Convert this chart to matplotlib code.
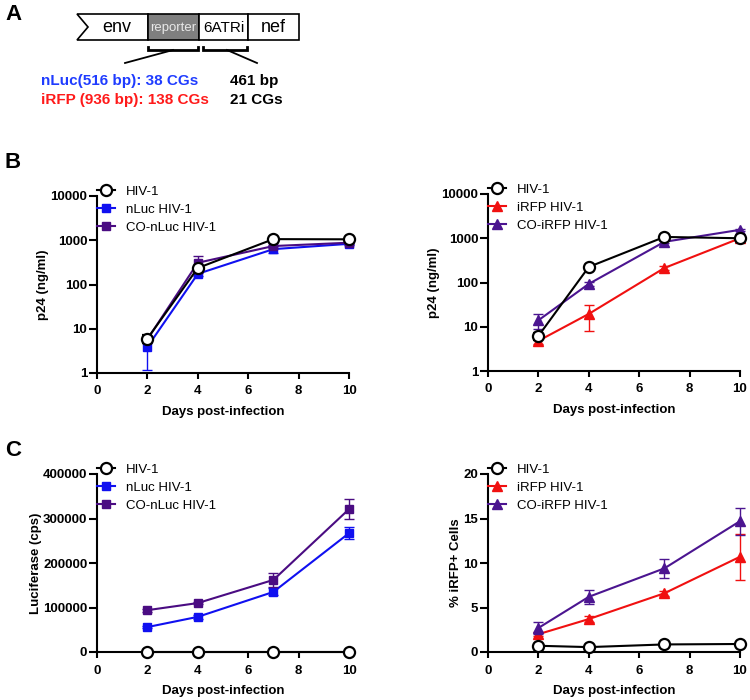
import matplotlib.pyplot as plt
from matplotlib.lines import Line2D
from matplotlib.patches import Polygon, Rectangle

plt.rcParams['font.family'] = ['Liberation Sans', 'DejaVu Sans']

# ---- data ----
days = [2, 4, 7, 10]

# B left: p24 (ng/ml)
p24_hiv_l = [6.0, 236, 1060, 1050]
p24_hiv_l_sd = [1.2, 30, 60, 60]
p24_nluc = [3.9, 174, 630, 830]
p24_nluc_sd = [2.75, 20, 110, 60]
p24_conluc = [5.8, 310, 740, 880]
p24_conluc_sd = [1.0, 130, 60, 50]

# B right: p24 (ng/ml)
p24_hiv_r = [6.2, 225, 1070, 1000]
p24_hiv_r_sd = [1.2, 25, 60, 50]
p24_irfp = [4.8, 19.5, 213, 1000]
p24_irfp_sd = [0.7, 11.5, 20, 60]
p24_coirfp = [14, 93, 830, 1550]
p24_coirfp_sd = [5, 10, 60, 100]

# C left: luciferase (cps)
luc_hiv = [0, 0, 0, 0]
luc_nluc = [56000, 79000, 135000, 267000]
luc_nluc_sd = [3000, 4000, 8000, 14000]
luc_conluc = [94000, 110000, 162000, 321000]
luc_conluc_sd = [3000, 3000, 16000, 22000]

# C right: % iRFP+ cells
pct_hiv = [0.7, 0.55, 0.85, 0.9]
pct_hiv_sd = [0.1, 0.1, 0.1, 0.1]
pct_irfp = [2.0, 3.7, 6.6, 10.7]
pct_irfp_sd = [0.2, 0.3, 0.3, 2.6]
pct_coirfp = [2.7, 6.2, 9.4, 14.7]
pct_coirfp_sd = [0.7, 0.8, 1.05, 1.5]

BLUE = '#1010f0'
PURPLE_L = '#4a0c82'
RED = '#f01010'
PURPLE_R = '#4b1590'

W, H = 750, 700
fig = plt.figure(figsize=(7.5, 7), dpi=100)


def px_axes(x0, y0, x1, y1):
    # pixel box (top-left origin) -> figure axes
    return fig.add_axes([x0 / W, 1 - y1 / H, (x1 - x0) / W, (y1 - y0) / H])


def series(ax, y, sd, color, marker, ms, label, z, open_marker=False):
    face = 'white' if open_marker else color
    mew = 1.6 if open_marker else 1
    ax.errorbar(days, y, yerr=sd, color=color, ecolor=color, elinewidth=1,
                capsize=3.5, capthick=1, lw=1.5, marker=marker, ms=ms,
                mfc=face, mec=color, mew=mew, zorder=z, clip_on=False)
    return Line2D([], [], color=color, lw=1.5, marker=marker, ms=ms,
                  mfc=face, mec=color, mew=mew, label=label)


def style(ax, ylabel, handles):
    for s in ['top', 'right']:
        ax.spines[s].set_visible(False)
    for s in ['left', 'bottom']:
        ax.spines[s].set_linewidth(1.5)
    ax.tick_params(axis='x', width=1.5, length=4, labelsize=9.5, pad=5)
    ax.tick_params(axis='y', width=1.5, length=6, labelsize=9.5, pad=1)
    ax.minorticks_off()
    for lab in ax.get_xticklabels() + ax.get_yticklabels():
        lab.set_fontweight('bold')
    ax.set_xlim(0, 10)
    ax.set_xticks([0, 2, 4, 6, 8, 10])
    ax.set_xlabel('Days post-infection', fontsize=9.5, fontweight='bold', labelpad=6)
    ax.set_ylabel(ylabel, fontsize=9.5, fontweight='bold', labelpad=1)
    ax.legend(handles=handles, loc='upper left', bbox_to_anchor=(0.0, 1.06),
              frameon=False, fontsize=9.5, borderaxespad=0, borderpad=0,
              handlelength=1.4, handletextpad=0.8, labelspacing=0.45)


def log_y(ax):
    ax.set_yscale('log')
    ax.set_ylim(1, 10000)
    ax.set_yticks([1, 10, 100, 1000, 10000])
    ax.set_yticklabels(['1', '10', '100', '1000', '10000'])
    ax.minorticks_off()


# ---- B left ----
ax = px_axes(97, 196, 349, 373)
log_y(ax)
hs = [series(ax, p24_hiv_l, p24_hiv_l_sd, 'black', 'o', 8, 'HIV-1', 5, True),
      series(ax, p24_nluc, p24_nluc_sd, BLUE, 's', 6, 'nLuc HIV-1', 3),
      series(ax, p24_conluc, p24_conluc_sd, PURPLE_L, 's', 6, 'CO-nLuc HIV-1', 4)]
style(ax, 'p24 (ng/ml)', hs)

# ---- B right ----
ax = px_axes(488, 194, 740, 371)
log_y(ax)
hs = [series(ax, p24_hiv_r, p24_hiv_r_sd, 'black', 'o', 8, 'HIV-1', 5, True),
      series(ax, p24_irfp, p24_irfp_sd, RED, '^', 6.5, 'iRFP HIV-1', 3),
      series(ax, p24_coirfp, p24_coirfp_sd, PURPLE_R, '^', 6.5, 'CO-iRFP HIV-1', 4)]
style(ax, 'p24 (ng/ml)', hs)

# ---- C left ----
ax = px_axes(97, 474, 349, 652)
ax.set_ylim(0, 400000)
ax.set_yticks([0, 100000, 200000, 300000, 400000])
hs = [series(ax, luc_hiv, None, 'black', 'o', 8, 'HIV-1', 5, True),
      series(ax, luc_nluc, luc_nluc_sd, BLUE, 's', 6, 'nLuc HIV-1', 3),
      series(ax, luc_conluc, luc_conluc_sd, PURPLE_L, 's', 6, 'CO-nLuc HIV-1', 4)]
style(ax, 'Luciferase (cps)', hs)

# ---- C right ----
ax = px_axes(488, 474, 740, 652)
ax.set_ylim(0, 20)
ax.set_yticks([0, 5, 10, 15, 20])
hs = [series(ax, pct_hiv, pct_hiv_sd, 'black', 'o', 8, 'HIV-1', 5, True),
      series(ax, pct_irfp, pct_irfp_sd, RED, '^', 6.5, 'iRFP HIV-1', 3),
      series(ax, pct_coirfp, pct_coirfp_sd, PURPLE_R, '^', 6.5, 'CO-iRFP HIV-1', 4)]
style(ax, '% iRFP+ Cells', hs)

# ---- panel A diagram (pixel coords overlay) ----
ov = fig.add_axes([0, 0, 1, 1], zorder=-1)
ov.set_xlim(0, W)
ov.set_ylim(H, 0)
ov.axis('off')

ov.add_patch(Polygon([(77, 14), (148, 14), (148, 40), (77, 40), (88, 27)],
                     closed=True, fc='white', ec='black', lw=1.2))
ov.add_patch(Rectangle((148, 14), 51, 26, fc='#7f7f7f', ec='black', lw=1.2))
ov.add_patch(Rectangle((199, 14), 49, 26, fc='white', ec='black', lw=1.2))
ov.add_patch(Rectangle((248, 14), 51, 26, fc='white', ec='black', lw=1.2))
ov.text(117, 27, 'env', fontsize=13, ha='center', va='center')
ov.text(173.5, 28, 'reporter', fontsize=9.5, color='#e8e8e8', ha='center', va='center')
ov.text(223.5, 28, '6ATRi', fontsize=11, ha='center', va='center')
ov.text(273.5, 27, 'nef', fontsize=13, ha='center', va='center')

for x0, x1 in [(148, 198), (203, 247)]:
    ov.plot([x0, x0, x1, x1], [46.5, 50, 50, 46.5], color='black', lw=2,
            solid_joinstyle='miter')
ov.plot([173, 125], [50, 63], color='black', lw=1.3)
ov.plot([227, 257], [50, 63], color='black', lw=1.3)

ov.text(41, 81, 'nLuc(516 bp): 38 CGs', color='#1f3cff', fontsize=11,
        fontweight='bold', va='center')
ov.text(41, 100, 'iRFP (936 bp): 138 CGs', color='#ff1a1a', fontsize=11,
        fontweight='bold', va='center')
ov.text(230, 81, '461 bp', fontsize=11, fontweight='bold', va='center')
ov.text(230, 100, '21 CGs', fontsize=11, fontweight='bold', va='center')

for letter, y in [('A', 15), ('B', 163), ('C', 451)]:
    ov.text(5, y, letter, fontsize=16, fontweight='bold', va='center')

fig.savefig('out.png', dpi=100)
